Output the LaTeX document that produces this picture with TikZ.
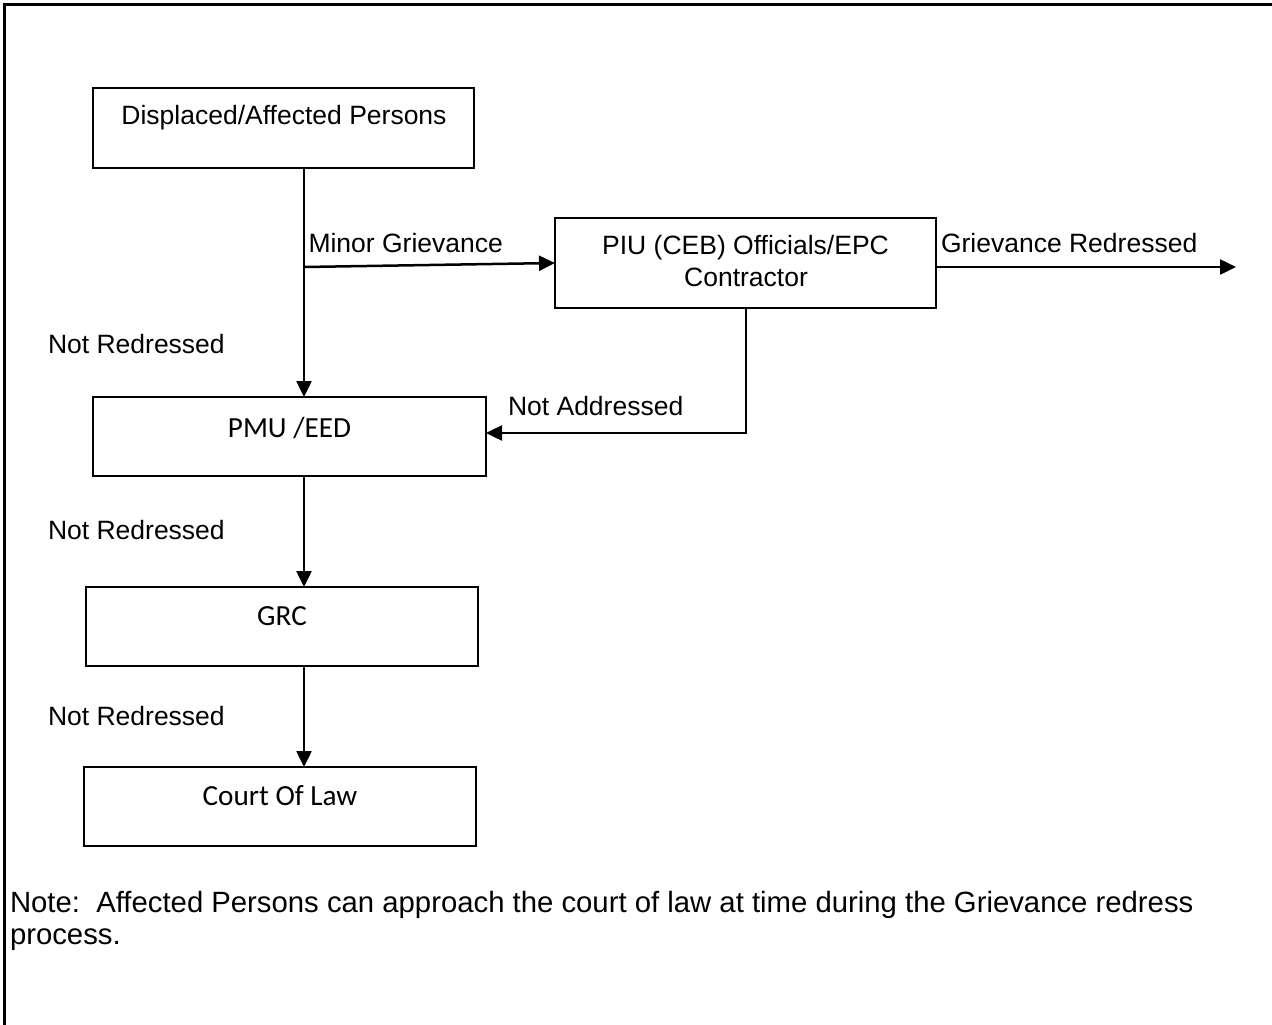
\documentclass[tikz,border=0pt]{standalone}
\usepackage{fontspec}
\setmainfont[Ligatures=NoCommon]{Liberation Sans}
\newfontfamily\calib[Ligatures=NoCommon]{Carlito}
\usetikzlibrary{arrows.meta}
\tikzset{
  box/.style={draw, line width=2.2pt, inner sep=0pt, outer sep=0pt},
  txt/.style={inner sep=0pt, outer sep=0pt, font=\fontsize{26.5}{32}\selectfont},
  ntxt/.style={inner sep=0pt, outer sep=0pt, font=\fontsize{29.3}{33}\selectfont},
  ctxt/.style={inner sep=0pt, outer sep=0pt, font=\calib\fontsize{29.2}{35}\selectfont},
  arr/.style={line width=2.5pt, -{Triangle[length=16pt,width=15pt]}}
}
\begin{document}
\begin{tikzpicture}[x=1pt,y=-1pt]
\useasboundingbox (0,0) rectangle (1272,1025);
\fill[white] (0,0) rectangle (1272,1025);
\draw[line width=2.2pt] (4.5,1025) -- (4.5,4.5) -- (1272,4.5);

% boxes
\node[box, minimum width=381pt, minimum height=80pt] (dap) at (283.5,128) {};
\node[box, minimum width=381pt, minimum height=90pt] (piu) at (745.5,263) {};
\node[box, minimum width=393pt, minimum height=79pt] (pmu) at (289.5,436.5) {};
\node[box, minimum width=392pt, minimum height=79pt] (grc) at (282,626.5) {};
\node[box, minimum width=392pt, minimum height=79pt] (col) at (280,806.5) {};

% box texts
\node[txt, anchor=base] (dapt) at (284,124) {Displaced/Affected Persons};
\node[txt, anchor=base] (piut1) at (745.5,254) {PIU (CEB) Officials/EPC};
\node[txt, anchor=base] (piut2) at (746,286) {Contractor};
\node[ctxt, anchor=base] (pmut) at (289.5,437) {PMU /EED};
\node[ctxt, anchor=base] (grct) at (282,625.5) {GRC};
\node[ctxt, anchor=base] (colt) at (280,805.5) {Court Of Law};

% coordinates
\coordinate (v1) at (304,0);
\coordinate (j1) at (304,267);
\coordinate (pd) at (746,0);
\coordinate (pa) at (0,433);
\coordinate (gr) at (1236,267);

% connectors
\draw[arr] (dap.south -| v1) -- (pmu.north -| v1);
\draw[arr] (j1) -- (piu.west);
\draw[arr] (piu.east |- gr) -- (gr);
\draw[arr] (piu.south -| pd) |- (pmu.east |- pa);
\draw[arr] (pmu.south -| v1) -- (grc.north -| v1);
\draw[arr] (grc.south -| v1) -- (col.north -| v1);

% labels
\node[txt, anchor=base west] (lmg) at (308.5,252) {Minor Grievance};
\node[txt, anchor=base west] (lgr) at (941,252) {Grievance Redressed};
\node[txt, anchor=base west] (lna) at (508,415) {Not Addressed};
\node[txt, anchor=base west] (lnr1) at (48,353) {Not Redressed};
\node[txt, anchor=base west] (lnr2) at (48,539) {Not Redressed};
\node[txt, anchor=base west] (lnr3) at (48,725) {Not Redressed};

% note
\node[ntxt, anchor=base west] (note1) at (10,912) {Note:\ \ Affected Persons can approach the court of law at time during the Grievance redress};
\node[ntxt, anchor=base west] (note2) at (10,944) {process.};
\end{tikzpicture}
\end{document}
